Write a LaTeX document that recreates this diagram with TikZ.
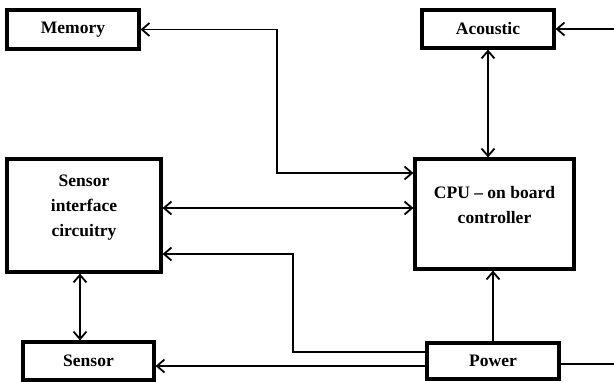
\documentclass[tikz,border=0pt]{standalone}
\usepackage{fontspec}
\setmainfont{Liberation Serif}
\usetikzlibrary{arrows.meta,calc}
\begin{document}
\begin{tikzpicture}[x=1pt,y=-1pt,
  box/.style={draw, line width=3.2pt, inner sep=0pt, font=\bfseries\fontsize{17.5}{25}\selectfont, align=center},
  lbl/.style={font=\bfseries\fontsize{17.5}{25}\selectfont, align=center, inner sep=0pt},
  conn/.style={line width=1.8pt},
  arr/.style={conn, -{Straight Barb[length=7.5pt,width=13pt,line width=1.8pt]}},
  both/.style={conn, {Straight Barb[length=7.5pt,width=13pt,line width=1.8pt]}-{Straight Barb[length=7.5pt,width=13pt,line width=1.8pt]}}]
\useasboundingbox (0,0) rectangle (614,381);
\node[box, minimum width=132pt, minimum height=39pt] (mem) at (73,29.5) {Memory};
\node[box, minimum width=132pt, minimum height=38pt] (ac) at (488,29) {Acoustic};
\node[box, minimum width=159pt, minimum height=110pt,
  label={[lbl,yshift=9pt]center:{CPU – on board\\controller}}] (cpu) at (494.5,214) {};
\node[box, minimum width=154pt, minimum height=113pt,
  label={[lbl,yshift=7.5pt]center:{Sensor\\interface\\circuitry}}] (sif) at (84,215.5) {};
\node[box, minimum width=131pt, minimum height=38pt] (sen) at (88.5,361) {Sensor};
\node[box, minimum width=132pt, minimum height=36pt] (pw) at (493,361) {Power};
% coordinates
\coordinate (mc) at (277,173);
\coordinate (s1) at (0,208);
\coordinate (p1) at (293,254);
\coordinate (p2) at (0,352);
\coordinate (p3) at (0,366);
\coordinate (pr) at (614,364);
\coordinate (ar) at (614,29);
\coordinate (v1) at (80,0);
% connectors
\draw[both] (mem.east) -| (mc) -- (cpu.west |- mc);
\draw[both] (ac.south) -- (cpu.north -| ac.south);
\draw[both] (sif.east |- s1) -- (cpu.west |- s1);
\draw[arr] (pw.north) -- (cpu.south -| pw.north);
\draw[arr] (pw.west |- p2) -| (p1) -- (sif.east |- p1);
\draw[arr] (pw.west |- p3) -- (sen.east |- p3);
\draw[conn] (pw.east |- pr) -- (pr);
\draw[arr] (ar) -- (ac.east);
\draw[both] (sif.south -| v1) -- (sen.north -| v1);
\end{tikzpicture}
\end{document}
